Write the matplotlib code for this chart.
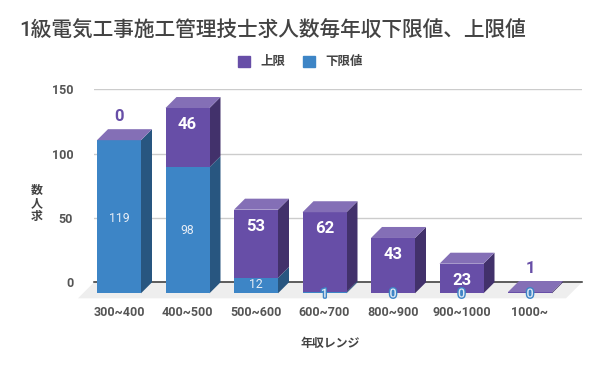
import matplotlib
matplotlib.use("Agg")
import matplotlib.pyplot as plt
import matplotlib.patheffects as pe
from matplotlib.patches import Patch, Polygon

plt.rcParams['font.family'] = ['Roboto', 'Noto Sans CJK JP', 'DejaVu Sans']

# Data
categories = ['300~400', '400~500', '500~600', '600~700', '800~900', '900~1000', '1000~']
lower = [119, 98, 12, 1, 0, 0, 0]
upper = [0, 46, 53, 62, 43, 23, 1]
y_ticks = [0, 50, 100, 150]

title = '1級電気工事施工管理技士求人数毎年収下限値、上限値'
x_title = '年収レンジ'
y_title = '数\n人\n求'
legend_labels = ['上限', '下限値']

# Colours
blue, blue_side = '#3d85c6', '#285680'
purple, purple_side, purple_top = '#674ea7', '#42316b', '#846fb6'
text_col = '#555555'
dark_col = '#434343'

fig = plt.figure(figsize=(6, 3.71), dpi=100)
ax = fig.add_axes([94 / 600, (371 - 282.3) / 371, 488 / 600, 193 / 371])

# one category is 68.5 px, one value unit is 193/150 px
px_x = 1 / 68.5
px_y = 150 / 193
ax.set_xlim((94 - 130) * px_x, (582 - 130) * px_x)
ax.set_ylim(0, 150)
dx, dy = 11 * px_x, 11 * px_y
w = 44 * px_x
x0, x1 = ax.get_xlim()

for s in ax.spines.values():
    s.set_visible(False)

# Floor and grid
ax.add_patch(Polygon([(x0, 0), (x1, 0), (x1 - 16 * px_x, -16 * px_y), (x0 - 16 * px_x, -16 * px_y)],
                     color='#eeeeee', lw=0, clip_on=False, zorder=1))
ax.set_yticks(y_ticks)
ax.grid(axis='y', color='#cccccc', lw=1)
ax.set_axisbelow(True)
ax.axhline(0, color='#333333', lw=1.1, zorder=1.5, clip_on=False)


def draw_block(i, bottom, h, front, side):
    # side face first, then the front face
    xr = i + w / 2
    ax.add_patch(Polygon([(xr - dx, bottom - dy), (xr, bottom), (xr, bottom + h), (xr - dx, bottom + h - dy)],
                         color=side, lw=0, clip_on=False, zorder=3))
    if h > 0:
        ax.bar(i - dx, h, w, bottom=bottom - dy, color=front, clip_on=False, zorder=3)


for i in range(len(categories)):
    draw_block(i, 0, lower[i], blue, blue_side)
    draw_block(i, lower[i], upper[i], purple, purple_side)
    # top cap
    top = lower[i] + upper[i]
    ax.add_patch(Polygon([(i - w / 2 - dx, top - dy), (i + w / 2 - dx, top - dy),
                          (i + w / 2, top), (i - w / 2, top)],
                         color=purple_top, lw=0, clip_on=False, zorder=3))

# Value labels
for i in range(len(categories)):
    cx = i - dx
    # lower labels
    if lower[i] >= 12:
        shift = 0.5 if i == 2 else -1.5 if i == 0 else 0
        ax.text(cx, lower[i] / 2 - dy + shift, str(lower[i]), color='#e8eef6', fontsize=8.8,
                ha='center', va='center', zorder=5, clip_on=False)
    else:
        ax.text(cx, -dy - 0.5, str(lower[i]), color='#dfe9f4', fontsize=9, ha='center', va='center',
                zorder=5, clip_on=False, fontweight='medium',
                path_effects=[pe.withStroke(linewidth=2, foreground=blue)])
    # upper labels
    if upper[i] >= 12:
        ax.text(cx, lower[i] + upper[i] - dy - 13, str(upper[i]), color='white', fontsize=12,
                fontweight='bold', ha='center', va='center', zorder=5, clip_on=False)
    else:
        ax.text(cx, lower[i] + upper[i] + 10, str(upper[i]), color=purple, fontsize=12,
                fontweight='bold', ha='center', va='center', zorder=5, clip_on=False)

# Ticks
ax.set_xticks([i - dx for i in range(len(categories))])
ax.set_xticklabels(categories, fontsize=9, fontweight='bold', color=text_col)
ax.tick_params(axis='x', length=0, pad=17)
ax.tick_params(axis='y', length=0, pad=15, labelsize=9, labelcolor=text_col)
for t in ax.get_yticklabels():
    t.set_fontweight('bold')

# Titles
fig.text(19 / 600, 1 - 31 / 371, title, fontsize=14.9, color=dark_col, ha='left', va='center', fontweight='medium')
fig.text(330 / 600, 1 - 344 / 371, x_title, fontsize=8.6, color=dark_col, ha='center', va='center', fontweight='bold')
fig.text(37 / 600, 1 - 203.5 / 371, y_title, fontsize=8.6, color=dark_col, ha='center', va='center',
         fontweight='bold', linespacing=1.0)

# Legend
handles = [Patch(color=purple), Patch(color=blue)]
fig.legend(handles, legend_labels, ncol=2, frameon=False, loc='center',
           bbox_to_anchor=(300 / 600, 1 - 62 / 371), prop={'size': 9, 'weight': 'bold'},
           handlelength=1.0, handleheight=1.0, handletextpad=0.8, columnspacing=1.4, labelcolor=dark_col)

fig.savefig('out.png', dpi=100)
